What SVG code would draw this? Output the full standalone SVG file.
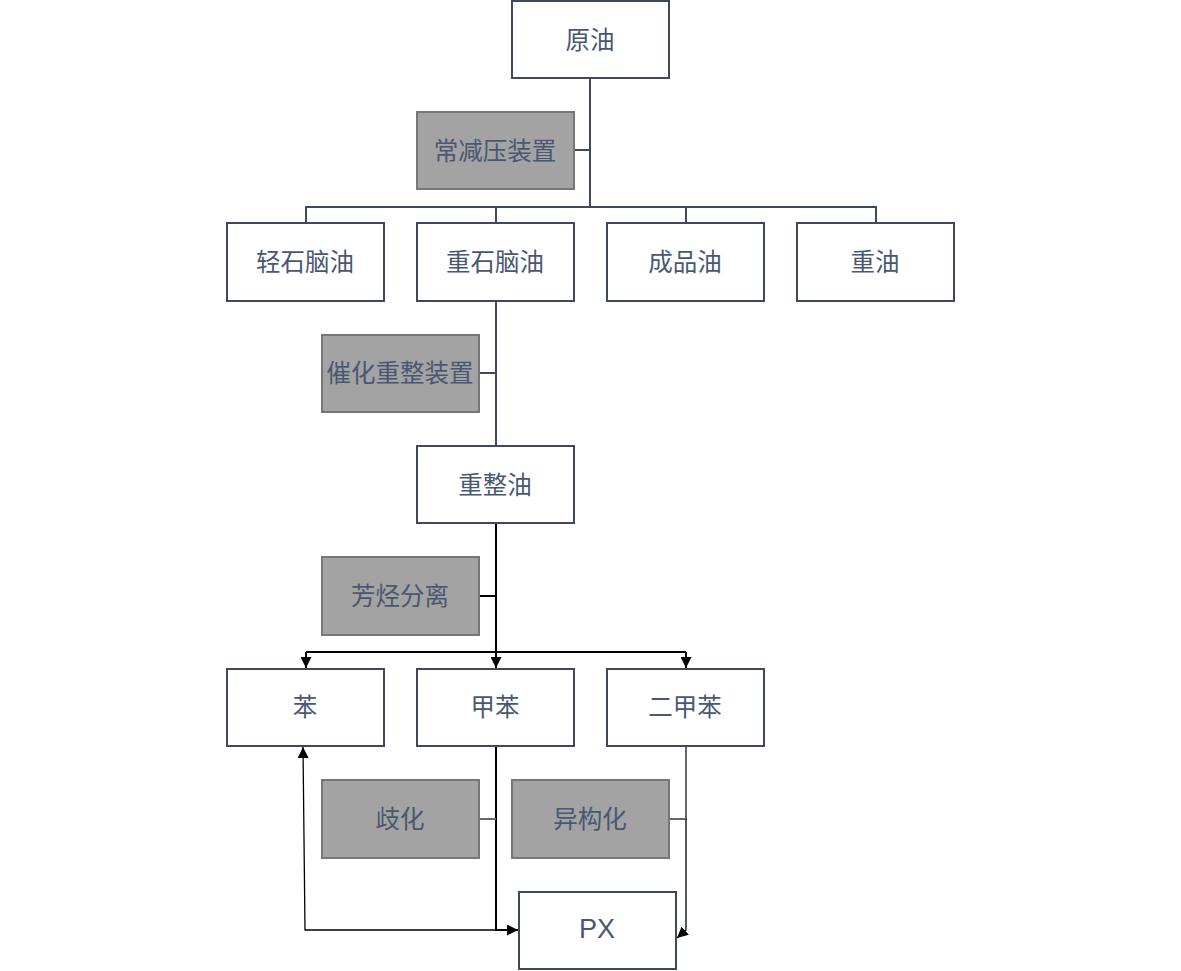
<svg xmlns="http://www.w3.org/2000/svg" width="1181" height="971" viewBox="0 0 1181 971">
<defs>
<style>
.n{fill:#ffffff;stroke:#3e4a5c;stroke-width:2}
.p{fill:#a3a3a3;stroke:#777777;stroke-width:2}
.t{font-family:"Noto Sans CJK SC","Liberation Sans",sans-serif;font-size:24.5px;fill:#4a5772;text-anchor:middle;dominant-baseline:central}
.l{fill:none;stroke:#3e4a5c;stroke-width:2}
.g{fill:none;stroke:#666;stroke-width:2}
.a{fill:none;stroke:#000;stroke-width:2}
.a1{fill:none;stroke:#000;stroke-width:1.3}
</style>
<marker id="ar2" viewBox="0 0 10 10" refX="10" refY="5" markerWidth="11" markerHeight="11" markerUnits="userSpaceOnUse" orient="auto"><path d="M0,0L10,5L0,10z" fill="#000"/></marker>
</defs>
<g id="connectors">
<path class="l" d="M590,78V207M306,223V207H876V223M496,207V223M686,207V223M574,150H590"/>
<path class="l" d="M496,301V446M479,373H496"/>
<path class="a" d="M496,523V652M479,596H496"/>
<path class="a" d="M306,652H686"/>
<path class="a" d="M306,652V668" marker-end="url(#ar2)"/>
<path class="a" d="M496,652V668" marker-end="url(#ar2)"/>
<path class="a" d="M686,652V668" marker-end="url(#ar2)"/>
<path class="a" d="M496,746V930H518" marker-end="url(#ar2)"/>
<path class="a1" d="M496,930H305L303,747" marker-end="url(#ar2)"/>
<path class="g" d="M479,819H496"/>
<path class="g" d="M686,746V819H669"/>
<path class="a1" d="M686,819V930L677,938" marker-end="url(#ar2)"/>
</g>
<g id="n1"><rect class="n" x="512" y="1" width="157" height="77"/><text class="t" x="590" y="38">原油</text></g>
<g id="n2"><rect class="p" x="417" y="112" width="157" height="77"/><text class="t" x="495" y="149">常减压装置</text></g>
<g id="n3"><rect class="n" x="227" y="223" width="157" height="78"/><text class="t" x="305" y="260">轻石脑油</text></g>
<g id="n4"><rect class="n" x="417" y="223" width="157" height="78"/><text class="t" x="495" y="260">重石脑油</text></g>
<g id="n5"><rect class="n" x="607" y="223" width="157" height="78"/><text class="t" x="685" y="260">成品油</text></g>
<g id="n6"><rect class="n" x="797" y="223" width="157" height="78"/><text class="t" x="875" y="260">重油</text></g>
<g id="n7"><rect class="p" x="322" y="335" width="157" height="77"/><text class="t" x="400" y="371">催化重整装置</text></g>
<g id="n8"><rect class="n" x="417" y="446" width="157" height="77"/><text class="t" x="495" y="483">重整油</text></g>
<g id="n9"><rect class="p" x="322" y="557" width="157" height="78"/><text class="t" x="400" y="594">芳烃分离</text></g>
<g id="n10"><rect class="n" x="227" y="669" width="157" height="77"/><text class="t" x="305" y="705">苯</text></g>
<g id="n11"><rect class="n" x="417" y="669" width="157" height="77"/><text class="t" x="495" y="705">甲苯</text></g>
<g id="n12"><rect class="n" x="607" y="669" width="157" height="77"/><text class="t" x="685" y="705">二甲苯</text></g>
<g id="n13"><rect class="p" x="322" y="780" width="157" height="78"/><text class="t" x="400" y="817">歧化</text></g>
<g id="n14"><rect class="p" x="512" y="780" width="157" height="78"/><text class="t" x="590" y="817">异构化</text></g>
<g id="n15"><rect class="n" x="519" y="892" width="157" height="77"/><text class="t" x="597" y="929" style="font-family:'Liberation Sans',sans-serif;font-size:27px">PX</text></g>
</svg>
